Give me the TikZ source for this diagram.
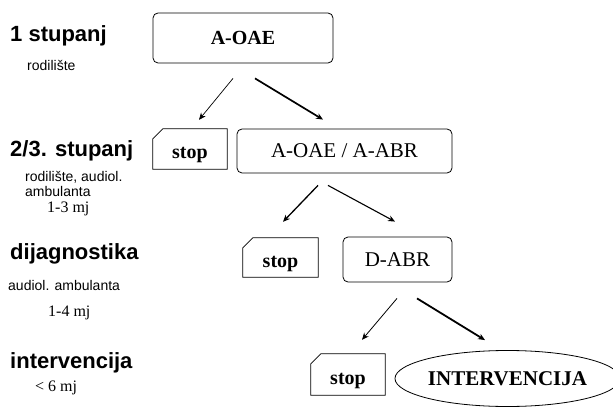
\documentclass[tikz,border=0pt]{standalone}
\usepackage{fontspec}
\setmainfont{Liberation Serif}
\newfontfamily\sansf{Liberation Sans}
\usetikzlibrary{shapes.geometric,arrows.meta}
\tikzset{
  roundbox/.style={draw, line width=0.8pt, rounded corners=5pt, inner sep=0pt},
  stopbox/.style={inner sep=0pt, text height=19pt, text depth=0pt, font=\fontsize{20}{22}\selectfont\bfseries},
  stopline/.style={draw, line width=0.8pt},
  ovalbox/.style={draw, ellipse, line width=0.8pt, inner sep=0pt, minimum width=210pt, minimum height=56pt, font=\fontsize{21}{23}\selectfont\bfseries},
  head/.style={anchor=base west, inner sep=0pt, font=\sansf\fontsize{22}{24}\selectfont\bfseries},
  sub/.style={anchor=base west, inner sep=0pt, font=\sansf\fontsize{14}{16}\selectfont},
  time/.style={anchor=base west, inner sep=0pt, font=\fontsize{16}{18}\selectfont},
  arr/.style={-{Stealth[length=7pt,width=6pt]}, line width=#1},
}
\begin{document}
\begin{tikzpicture}[x=1pt,y=-1pt]
\useasboundingbox (0,0) rectangle (613,409);
\fill[white] (0,0) rectangle (613,409);

% left column
\node[head] (l1) at (10,42) {1 stupanj};
\node[sub] (l1s) at (27,71) {rodilište};
\node[head] (l2) at (10,157) {2/3. stupanj};
\node[sub] (l2a) at (25,182) {rodilište, audiol.};
\node[sub] (l2b) at (25,196) {ambulanta};
\node[time] (l2c) at (47,212) {1-3 mj};
\node[head] (l3) at (10,259) {dijagnostika};
\node[sub] (l3a) at (8,290) {audiol. ambulanta};
\node[time] (l3b) at (48,316) {1-4 mj};
\node[head] (l4) at (10,368) {intervencija};
\node[time] (l4a) at (35,391) {< 6 mj};

% boxes
\node[roundbox, minimum width=180pt, minimum height=50pt, font=\fontsize{20}{22}\selectfont\bfseries] (aoae) at (243,38) {A-OAE};
\node[roundbox, minimum width=215pt, minimum height=44pt, font=\fontsize{21}{23}\selectfont] (mid) at (344.5,151) {A-OAE / A-ABR};
\node[roundbox, minimum width=109pt, minimum height=45pt, font=\fontsize{21}{23}\selectfont] (dabr) at (397.5,259.5) {D-ABR};
\node[ovalbox] (interv) at (507.5,378.5) {INTERVENCIJA};

\node[stopbox, minimum width=74pt, minimum height=40pt] (s1) at (190,149) {stop};
\node[stopbox, minimum width=75pt, minimum height=39pt] (s2) at (280.5,257.5) {stop};
\node[stopbox, minimum width=74pt, minimum height=41pt] (s3) at (348,374.5) {stop};
\foreach \s in {s1,s2,s3}{
  \draw[stopline] ([yshift=-10pt]\s.north west) -- ([xshift=10pt]\s.north west) -- (\s.north east) -- (\s.south east) -- (\s.south west) -- cycle;
}

% arrows
\draw[arr=0.7pt] ([xshift=-10pt,yshift=-15pt]aoae.south) -- ([xshift=9pt,yshift=9pt]s1.north);
\draw[arr=1.7pt] ([xshift=12pt,yshift=-15pt]aoae.south) -- ([xshift=-21.5pt,yshift=9pt]mid.north);
\draw[arr=1.3pt] ([xshift=-26.5pt,yshift=-12pt]mid.south) -- ([xshift=2.5pt,yshift=16pt]s2.north);
\draw[arr=1.1pt] ([xshift=-16.5pt,yshift=-12pt]mid.south) -- ([xshift=-2.5pt,yshift=15pt]dabr.north);
\draw[arr=0.8pt] ([xshift=-0.5pt,yshift=-16pt]dabr.south) -- ([xshift=14pt,yshift=14pt]s3.north);
\draw[arr=1.8pt] ([xshift=19.5pt,yshift=-16pt]dabr.south) -- ([xshift=-22.5pt,yshift=10pt]interv.north);
\end{tikzpicture}
\end{document}
